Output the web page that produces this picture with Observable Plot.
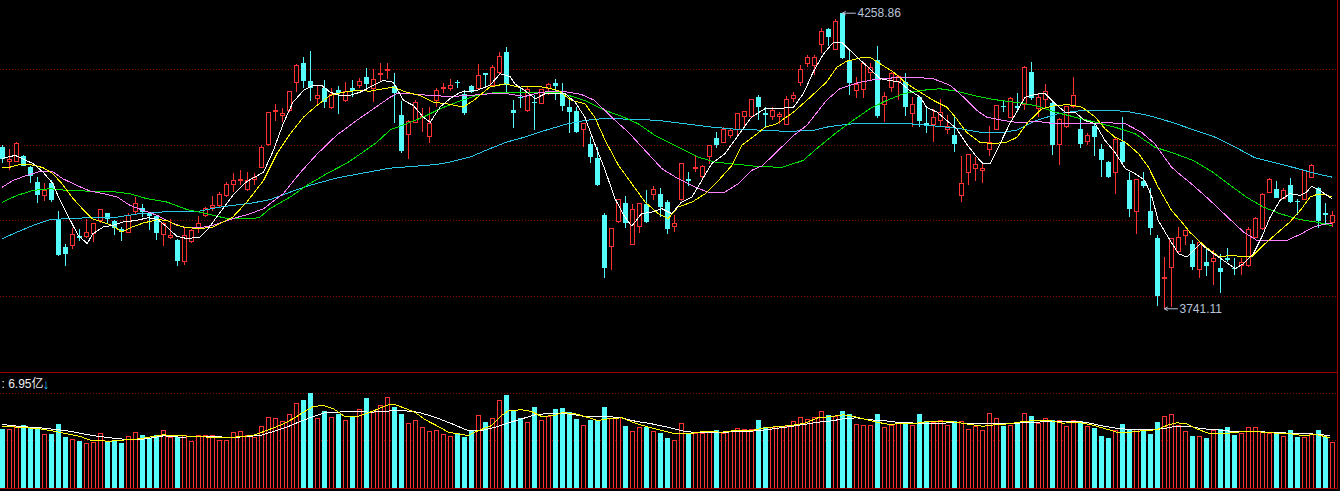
<!DOCTYPE html>
<html><head><meta charset="utf-8">
<script src="https://cdn.jsdelivr.net/npm/d3@7"></script>
<script src="https://cdn.jsdelivr.net/npm/@observablehq/plot@0.6"></script>
<style>
html,body{margin:0;padding:0;background:#000;overflow:hidden;}
#chart{width:1340px;height:491px;background:#000;}
#chart svg{display:block;}
</style></head><body><div id="chart"></div>
<script>
const open = [
4024.3,3998,3998,4008,3989.3,3963,3938.5,3961.3,3897.2,3849.3,
3851,3868.5,3866.3,3872,3894.8,3907.7,3894.8,3880.3,3874.5,3910.5,
3916.5,3907.7,3903,3869.8,3864.5,3861,3823,3858,3880.3,3903,
3917.5,3920.5,3938.5,3958.5,3964.8,3948.5,3967.2,3988.2,4027.3,4085,
4078.5,4086.8,4136.3,4170.2,4139.3,4108.3,4126.5,4092.5,4123.5,4104.8,
4126.5,4131,4145.7,4126.5,4149.8,4156.8,4130.5,4079.8,4046,4067,
4075,4041.8,4104.8,4126.5,4126.5,4138,4116,4130.5,4125.3,4152.7,
4130.5,4153.8,4189.5,4088.5,4111.8,4087.3,4103,4100.2,4126.5,4135.2,
4116.5,4093.2,4086.8,4054.7,4029,4005,3904.8,3849.3,3893,3925.2,
3853.5,3884.3,3924,3941,3941.5,3927.5,3884.3,3931,3967.2,3985.8,
3971.8,4006.8,4039,4032,4043.5,4054.7,4076.8,4076.8,4110.7,4082.7,
4076.8,4076.8,4063.5,4108.3,4136.3,4169,4166,4203.5,4229.7,4194.7,
4257.7,4176,4122.3,4124.7,4153.8,4176,4098.5,4128.2,4138,4138,
4082.7,4110.7,4066.3,4062.3,4069.8,4054.7,4044.8,3938.5,3978.8,3986.5,
3981.8,4019.7,4054.7,4096,4075.7,4095.5,4097.3,4155.5,4091.5,4106,
4100.2,4027.3,4059.3,4094.3,4054.7,4033,4060.5,4020.3,3998,3978.8,
4033,3966,3910.5,3964.3,3912.3,3865,3792.8,3813.2,3840.5,3868.5,
3854,3809.7,3822,3823.4,3812,3829,3812.5,3816,3816,3865.7,
3880.3,3944.5,3950.3,3934,3957.3,3929.8,3932.2,3970.7,3951.5,3907.7,
3891.3];
const close = [
4002.8,4001,4030.2,3991,3973.5,3939.8,3946.8,3931,3834.8,3836.5,
3869.8,3865,3874.5,3889,3913.5,3898.3,3881.5,3875,3903.5,3924,
3910.5,3903,3873.8,3889,3868,3824.8,3869.2,3877.3,3890.2,3915.3,
3920.5,3941,3958.5,3964.3,3967.2,3965.5,3969.5,4023.2,4084.5,4087.3,
4082.7,4120.5,4165.5,4139.8,4127.5,4113,4103,4114.8,4117.7,4120.5,
4122.3,4138,4134,4141,4152.7,4159,4118.8,4017.3,4068,4102,
4076.8,4065.2,4122.3,4128.2,4131,4135.2,4083.8,4120.5,4148,4149.8,
4163.2,4183,4132.3,4083.8,4110,4124.7,4100.2,4123.5,4133.5,4131,
4096,4085.5,4050.5,4064,4006.8,3957.3,3812.5,3881.5,3932.2,3890.2,
3913.5,3924,3893,3948.5,3919.3,3880.3,3890.2,3995.2,3964.8,3988.2,
3989.3,4026.7,4027.3,4054.7,4051.8,4082.7,4085,4107.2,4094.3,4079.8,
4086.8,4079.8,4107.2,4113,4159.7,4180.7,4180.7,4226.8,4216.8,4244.3,
4180,4136.3,4132.3,4170.2,4162.5,4078,4111.8,4152.7,4146.8,4094.3,
4098.5,4069.8,4060.5,4075.7,4083.8,4059.3,4029,3959,4009.8,3993.5,
3986.5,4031.3,4096,4093.2,4109,4092.5,4162,4109,4110.7,4120.5,
4027.3,4071,4094.3,4113,4029,4043.5,4041.8,4001,3970.7,4037.2,
3997,3914.7,3967.2,3956,3882.5,3763,3795.7,3864,3865.7,3876.8,
3813.8,3856.6,3814.3,3827.8,3805.5,3826.5,3809.7,3822,3878.5,3899,
3939.8,3966,3935,3946.8,3928,3928,3982.3,3990.5,3894.8,3904.8,
3903.5];
const high = [
4027.3,4019.7,4032.5,4009.8,3990.5,3971.8,3960.2,3966,3911.8,3854,
3882.5,3880.3,3897.2,3890,3915.3,3908.5,3896,3884.3,3907.7,3936.8,
3924,3910.5,3904.8,3893,3897.2,3862.2,3882.5,3879.7,3903,3918.2,
3938,3945.5,3963,3978.8,3983.5,3980,3977.7,4027.3,4085.5,4098.5,
4092.5,4121.8,4168.5,4181.8,4191.8,4131,4141,4126.5,4130.5,4138,
4141,4145,4161.5,4160.3,4170.2,4170.2,4152.7,4104.3,4071,4106,
4091.5,4094.3,4126.5,4135.2,4142.2,4141,4123.5,4132.3,4169,4153.8,
4167.3,4189.5,4199.3,4106,4129.3,4129.3,4114.8,4125,4136.3,4142.2,
4135.2,4109,4094.3,4066.3,4041.8,4023.2,3907.7,3882.5,3933.3,3938.5,
3923.5,3925.2,3948.5,3956,3952.5,3931,3904.8,3996.3,3979.5,4009.8,
3992.3,4027.5,4050.5,4058.2,4056.5,4083.5,4087.3,4108,4114.8,4093.2,
4093.2,4085.5,4113,4120.5,4167.3,4184.8,4184.8,4231.5,4232.5,4247.2,
4258.86,4193.5,4145.7,4173,4170.2,4200.5,4120.5,4155.5,4149.8,4153.8,
4110.7,4111.8,4093.2,4089.7,4107.2,4079.8,4079.8,4008,4011.5,4006.8,
3995.2,4060.5,4097.3,4104.3,4110.7,4117.7,4165.5,4172.5,4117.7,4134,
4103,4074,4096,4145.7,4075.7,4047.7,4063.5,4029,3999.8,4041.8,
4075.7,3980.5,3968,3980.5,3951.5,3869.8,3830.7,3865,3883.2,3878.5,
3861,3858,3844.4,3843.5,3836.5,3846.5,3829,3829,3884.3,3901.8,
3942.7,3969,3964.8,3951.5,3969,3932.2,3983.5,3994,3954.3,3925.2,
3912.3];
const low = [
3995.2,3983.5,3997.5,3990.5,3960.2,3926.3,3929.3,3928,3832,3816,
3845.3,3859.3,3864,3857,3890.8,3889,3869.8,3859.8,3873.3,3906,
3901.8,3878.5,3861,3851,3862.8,3816,3817.3,3856.3,3872.7,3901,
3912.3,3918.8,3936.3,3945.5,3957.3,3946.8,3957.3,3986.5,4025.5,4069.3,
4068,4085,4120.5,4126.5,4104.3,4097.3,4091.5,4090,4081.5,4103,
4111.8,4127,4127.5,4103,4139.3,4142.2,4066.3,4013.8,4002.8,4065.2,
4050.5,4031.3,4094.3,4117.7,4122.3,4126.5,4079.8,4118.3,4124,4129.3,
4129,4152,4117.7,4056.5,4092.5,4085.5,4053.5,4098.5,4114.8,4106,
4087.3,4048.8,4048.8,4024.3,3995.2,3956,3795,3807.3,3891,3881.5,
3852,3873.8,3891,3931,3900.7,3871.5,3874.5,3929,3955.5,3980.5,
3970,3994,4021.5,4030.8,4039,4041.8,4057.5,4075,4071,4056.5,
4071,4064,4062,4103,4130.5,4164.3,4149.8,4187.7,4201,4193,
4178,4114.8,4109,4109,4141,4074,4068,4120.5,4106,4078,
4058.2,4058.2,4047.7,4033,4060.5,4046,4015.5,3928,3957.3,3964.8,
3960.2,4008.5,4053,4084.5,4074,4085.5,4088.5,4106,4076.8,4094.3,
4009.8,3992.3,4056.5,4091.5,4021.5,4027.3,4008,3971.8,3969,3941.5,
3995,3901.8,3871.5,3951.5,3869.8,3745.5,3741.11,3743.8,3836.5,3852.3,
3808.5,3793.6,3798,3782.3,3767.7,3823,3799.8,3799.8,3814,3864,
3878.5,3942.7,3933.5,3932.5,3925.2,3904.8,3930.5,3969,3881.5,3889,
3884.3];
// 成交量 (亿)
const volume = [
8.91,8.91,9.26,9.52,9.11,9.11,8.16,8.16,9.67,7.71,
7.40,7.10,6.80,6.95,8.31,6.95,7.25,6.80,7.71,8.46,
8.01,7.56,8.01,8.72,7.60,7.75,7.86,7.10,7.86,7.96,
7.96,7.25,7.25,8.46,8.61,7.90,7.56,9.22,10.68,10.43,
10.08,11.18,12.80,13.30,14.40,10.43,11.63,10.58,11.18,10.27,
10.77,11.89,13.60,11.44,12.54,13.70,12.24,11.23,9.82,10.27,
9.17,8.61,8.76,8.01,7.71,8.31,7.71,8.61,11.03,9.97,
10.43,13.15,14.05,11.68,10.53,9.97,12.24,10.27,10.88,11.94,
12.09,11.44,10.43,9.52,10.27,10.27,12.24,10.43,10.62,9.37,
8.61,9.07,9.22,8.61,8.31,7.56,7.25,9.82,8.31,8.31,
8.27,8.57,8.76,8.31,8.51,9.02,8.91,8.87,10.27,9.17,
9.17,9.22,9.22,10.08,10.68,10.38,10.68,11.59,11.03,10.77,
11.63,11.18,9.67,9.52,9.52,11.18,9.07,9.37,9.97,9.97,
9.52,11.18,10.12,9.97,10.27,9.52,10.12,10.02,8.91,9.22,
8.76,11.33,10.43,9.37,9.37,9.97,11.33,10.88,9.82,10.43,
10.27,10.17,9.22,10.27,10.12,9.22,9.07,7.86,7.56,8.76,
9.67,8.91,8.91,8.76,8.16,9.97,10.88,11.18,9.52,8.61,
7.86,7.71,7.56,8.76,8.91,9.22,8.01,8.31,9.07,9.07,
8.46,8.31,8.16,7.71,8.76,7.71,7.56,8.01,8.76,7.71,
6.95];

// moving averages: [candle index, value]
const ma5 = [[0,4004.5],[1.8,4009.8],[4.4,3995.2],[5.8,3980.5],[7.2,3960.2],[7.9,3939.8],[9.2,3907.7],[10.8,3869.8],[12.1,3855.2],[12.9,3872.7],[14.4,3884.3],[15.8,3887.3],[17.2,3893],[19.2,3896],[20.8,3900.7],[22.2,3897.2],[23.5,3884.3],[24.9,3868],[26.4,3864],[28.2,3866.8],[29.2,3878.5],[30.6,3901.8],[32.9,3939.8],[34.9,3964],[37.3,3980.5],[38.7,4018.5],[40.1,4065.2],[41.5,4103],[43,4123.5],[44.4,4132.3],[45.6,4132.3],[46.8,4120.5],[48.2,4114.8],[49.6,4114.8],[51.1,4120.5],[52.5,4129.3],[54.4,4141],[55.8,4138],[57.3,4106],[58.7,4097.3],[60.1,4076.8],[61.1,4068],[62.5,4094.3],[63.9,4109],[65.4,4120.5],[67.7,4123.5],[69.6,4132.3],[71.1,4152.7],[72.5,4148],[73.2,4135.2],[74.6,4123.5],[76.1,4109],[77.5,4117.7],[78.9,4117.7],[80.4,4117.7],[81.8,4103],[83.2,4076.8],[84.6,4030.2],[86.1,3983.5],[87.5,3934],[88.9,3901.8],[89.9,3886],[91.3,3907.7],[92.7,3910.5],[94.2,3916.5],[95.6,3907.7],[97,3928],[98.5,3936.8],[99.9,3966],[101.3,3995.2],[103.2,4012.7],[105.1,4044.8],[107,4076.8],[108.9,4091.5],[110.6,4091.5],[113,4094.3],[114.4,4117.7],[115.8,4155.5],[117.3,4187.7],[118.7,4208],[119.9,4208],[121.1,4193.5],[122.5,4177.2],[123.9,4161.5],[125.4,4144],[126.8,4141],[128.2,4138],[129.6,4123.5],[131.1,4111.8],[132,4094.3],[133.5,4085.5],[134.9,4071],[136.3,4056.5],[137.7,4030.2],[139.2,4006.8],[140.1,3995.2],[141.1,3995.2],[142.5,4030.2],[143.9,4065.2],[145.4,4097.3],[146.1,4111.8],[147.5,4116.5],[148.9,4118.8],[150.4,4100.2],[151.8,4085.5],[153.2,4085.5],[154.6,4071],[156.1,4065.2],[157.5,4036],[158.9,4015.5],[160.4,3986.5],[161.8,3977.7],[163.2,3966],[164.2,3936.8],[165.1,3896],[166.5,3866.8],[168,3837.7],[169.2,3831.8],[171.1,3855.2],[173,3837.7],[174.4,3826],[176.1,3811.5],[177.3,3820.2],[178.7,3837.7],[179.9,3866.8],[181.1,3901.8],[182.5,3931],[183.9,3942.7],[185.4,3939.8],[186.3,3945.5],[187,3955.5],[188.2,3948.5],[189.2,3939.8],[189.9,3934]];
const ma10 = [[0,3988.2],[1.1,3989.3],[2.5,3994],[4.4,3992.8],[5.8,3988.2],[7.2,3977.7],[8.5,3960.2],[9.9,3936.8],[11.4,3916.5],[12.8,3899],[14.2,3893],[15.6,3887.3],[17.1,3875.5],[18.5,3884.3],[20.1,3891.3],[22.1,3897.2],[23.5,3896],[24.9,3887.3],[26.4,3883.2],[28.2,3881.5],[30.1,3884.3],[31.5,3893],[32.9,3901.8],[34.9,3928],[37.3,3966],[39.2,4012.7],[41.1,4047.7],[43,4076.8],[44.9,4097.3],[46.8,4114.8],[48.7,4120.5],[50.6,4123.5],[52.5,4122.3],[54.4,4126.5],[55.8,4129.3],[57.7,4120.5],[59.6,4114.8],[61.5,4103],[63.5,4100.2],[65.8,4094.3],[67.3,4106],[69.6,4129.3],[71.8,4135.2],[73.7,4129.3],[75.6,4130.5],[77.5,4129.3],[79.4,4123.5],[81.3,4106],[83.2,4100.2],[84.6,4076.8],[86.1,4036],[88,3992.3],[89.9,3960.2],[91.8,3928],[93.7,3907.7],[95.1,3899],[96.5,3919.3],[98.5,3928],[100.4,3942.7],[102.3,3966],[104.2,3992.3],[105.6,4027.3],[107.5,4044.8],[108.9,4058.8],[110.6,4065.2],[113,4085.5],[115.4,4111.8],[117.7,4138],[119.2,4164.3],[120.6,4174.8],[123,4181.8],[123.9,4181.8],[125.4,4170.2],[127.3,4155.5],[129.2,4135.2],[131.1,4120.5],[133,4106],[134.9,4094.3],[136.3,4074],[137.7,4050.5],[139.6,4033],[141.5,4030.2],[143.5,4033],[144.9,4041.3],[146.5,4068],[148.5,4091.5],[150.4,4097.3],[152.3,4098.5],[154.2,4094.3],[156.1,4076.8],[157.5,4056.5],[158.9,4041.8],[160.4,4033],[162.3,4012.7],[163.7,3989.3],[165.1,3954.3],[167,3913.5],[168.5,3892.5],[169.6,3875.5],[171.1,3858],[172.5,3843.5],[173.9,3831.8],[175.4,3834.8],[176.8,3833],[178.5,3833],[180.1,3852.3],[182,3872.7],[183.9,3893],[185.4,3913.5],[186.8,3936.8],[187.8,3941.5],[189.2,3940.3],[189.9,3936.8]];
const ma20 = [[0,3954.3],[1.5,3966],[3.5,3974.8],[5.4,3981.8],[7.1,3981.8],[8.6,3969],[10.6,3957.3],[12.5,3947.3],[14.4,3942.7],[16.4,3936.8],[18.2,3922.3],[20.1,3913.5],[22.1,3904.8],[23.9,3893],[25.8,3884.3],[28.2,3883.2],[30.1,3887.3],[32.9,3899],[35.4,3907.7],[37.3,3916.5],[40.1,3942.7],[42.5,3979.1],[44.9,4011.5],[47.7,4044.8],[50.6,4071],[53,4091.5],[55.4,4111.8],[56.3,4117.7],[58.2,4117.7],[61.1,4114.8],[63.9,4113],[66.8,4114.8],[69.6,4117.7],[71.8,4118.3],[74.6,4113],[77,4120.5],[79.9,4122.3],[82.7,4116.5],[84.6,4106],[87,4076.8],[89.4,4050.5],[91.8,4018.5],[94.2,3986.5],[96.5,3969],[98.9,3954.3],[100.8,3945.5],[103.2,3945.5],[105.1,3960.2],[107,3983.5],[108.5,3991.4],[110.1,4009.8],[113,4044.8],[114.9,4062.3],[117.7,4106],[119.6,4126.5],[122.5,4138],[124.4,4142.2],[127.3,4145.7],[130.1,4146.8],[133,4144],[135.4,4132.3],[137.3,4111.8],[139.2,4088.5],[140.6,4076.8],[143,4071],[145.4,4066.6],[147.5,4069.8],[150.4,4065.2],[154.2,4065.2],[158,4067],[160.4,4065.2],[162.7,4050.5],[164.6,4030.2],[167,3989.3],[168.2,3976.5],[170.1,3957.3],[172.5,3931],[174.9,3903],[177.3,3875.5],[179.2,3861],[181.5,3860.1],[183.5,3861],[185.4,3871.5],[187.3,3884.3],[188.7,3889],[189.9,3890.8]];
const ma30 = [[0,3928],[2.1,3939.8],[4.4,3948.5],[6.8,3951.5],[9.2,3948.5],[12.1,3947.3],[15.4,3946.8],[18.2,3942.7],[20.6,3934],[23.5,3928],[26.4,3914.7],[29.2,3907.7],[32.1,3899],[35.8,3899],[36.8,3901.8],[38.2,3916.5],[41.1,3936.8],[43.5,3957.3],[46.3,3977.7],[49.2,3996.3],[51.5,4015.5],[53.5,4033],[55.4,4054.7],[57.7,4065.2],[60.1,4076.8],[62.5,4091.5],[64.9,4103],[67.7,4114.8],[70.1,4119.5],[73.9,4119.5],[79.4,4120.5],[83.2,4106],[86.1,4088.5],[88.5,4078],[90.8,4065.2],[93.2,4044.8],[96.5,4024.3],[99.4,4006.8],[101.8,3998],[105.1,3994],[108.5,3989.6],[111.5,3989.3],[114.4,4001],[116.3,4021.5],[119.2,4050.5],[121.5,4071],[123.9,4091.5],[126.3,4106],[128.7,4117.7],[131.1,4123.5],[133.9,4126.5],[136.3,4122.3],[138.7,4114.8],[141.5,4107.8],[144.9,4102.5],[147.5,4097.3],[150.4,4085.5],[153.2,4076.8],[156.1,4068],[158.9,4059.3],[161.8,4047.7],[164.6,4024.3],[167.5,4012.7],[170.1,4001],[172.9,3980.5],[175.4,3957.3],[177.7,3936.8],[180.1,3919.3],[182.5,3907.7],[185.4,3897.2],[187.7,3893],[189.9,3886.8]];
const ma60 = [[0,3864],[2.1,3875.5],[4.4,3887.3],[6.8,3897.2],[9.2,3899],[12.5,3900.7],[16.4,3901.8],[19.6,3907.7],[22.5,3910.5],[26.4,3911.8],[28.2,3912.3],[30.6,3918.2],[32.9,3922.3],[35.4,3925.8],[38.2,3932.2],[41.1,3945.5],[43.9,3957.3],[47.7,3970.1],[51.5,3978.8],[55.4,3987.5],[59.2,3991],[62,3994],[63.9,3998],[66.8,4006.8],[69.6,4021.5],[72.1,4033.4],[74.6,4041.8],[77.5,4053.5],[80.4,4064],[83.2,4071],[85.6,4074],[89.9,4073.3],[93.7,4071],[97.5,4065.2],[101.3,4059.3],[105.1,4055.3],[108.5,4054],[112,4051.8],[115.8,4053.5],[118.2,4060.5],[121.5,4065.2],[125.4,4065.2],[129.6,4065.2],[133.9,4060.5],[136.8,4056.5],[139.6,4050.5],[142.5,4049.5],[144.9,4054],[147.5,4070],[150.8,4083],[154.2,4088.5],[157,4088.5],[160.4,4087.3],[163.7,4079.8],[167,4068],[170.4,4053.5],[173.2,4041.8],[176.1,4024.3],[178.9,4005.7],[182.3,3995.2],[185.1,3986.5],[187.5,3978.3],[189.9,3971.8]];
const volMa5 = [[0,9.37],[2.5,9.26],[5.4,9.02],[7.3,8.66],[9.2,8.27],[11.1,7.86],[12.7,7.25],[15.4,7.15],[17.7,7.36],[19.6,7.51],[21.5,7.86],[23,8.11],[25.4,7.96],[28.2,7.86],[30.6,7.66],[33,7.75],[35.8,8.01],[37.7,8.76],[39.6,9.52],[41.5,10.53],[43,11.53],[44.4,12.39],[45.8,12.54],[47.3,12.04],[48.9,10.88],[50.8,10.92],[52.3,11.44],[53.7,12.04],[55.1,12.65],[56.1,12.65],[57.5,12.13],[58.9,11.53],[60.4,10.38],[61.8,9.63],[63.7,8.51],[65.6,8.16],[66.5,8.01],[68,8.76],[69.9,9.52],[71.3,11.03],[72.3,11.79],[74.2,11.89],[75.6,11.63],[77,10.88],[78.9,11.03],[79.9,11.48],[81.8,11.29],[83.2,10.88],[85.1,10.27],[86.5,10.53],[88.5,10.68],[90.4,9.87],[92.3,9.26],[94.2,8.76],[96.1,8.27],[98,8.27],[100.4,8.66],[102.7,8.51],[104.6,8.76],[107,8.76],[108.9,9.17],[110.8,9.37],[112.7,9.52],[114.6,9.87],[116.5,10.68],[118.5,10.88],[120.1,11.14],[121.6,10.88],[123,10.53],[124.9,10.02],[126.8,9.67],[128.7,9.87],[130.6,9.87],[132.5,10.17],[134.4,10.17],[136.3,10.02],[138.2,9.67],[140.1,9.41],[142,9.67],[143.9,9.78],[145.8,10.12],[147.7,10.27],[149.6,10.27],[151.5,9.87],[153.5,10.02],[155.4,9.67],[157.3,9.11],[159.2,8.51],[161.1,8.51],[163,8.76],[164.9,8.87],[166.3,9.52],[167.7,9.93],[169.2,9.78],[170.6,9.02],[172.5,8.27],[174.4,8.27],[176.3,8.51],[178.2,8.66],[180.1,8.51],[182,8.36],[183.9,8.27],[185.8,8.01],[187.7,8.16],[189.6,7.66]];
const volMa10 = [[0,9.67],[2.5,9.37],[5.4,9.17],[7.7,8.91],[9.6,8.66],[11.5,8.27],[13.5,7.90],[15.4,7.66],[17.3,7.45],[19.6,7.40],[21.5,7.66],[23,7.96],[25.4,7.75],[28.2,7.86],[30.6,7.86],[32.5,7.66],[34.9,7.86],[36.8,8.01],[38.7,8.61],[40.6,9.26],[42.5,10.12],[44.4,10.88],[46.3,11.53],[48.2,11.56],[50.4,11.63],[52.7,11.53],[54.6,11.68],[57,11.79],[59.4,11.53],[61.8,10.77],[64.2,9.78],[66.5,8.76],[68.5,8.76],[70.4,9.26],[72.3,9.93],[74.2,10.53],[76.1,11.14],[78.5,11.38],[80.8,11.29],[83.2,10.88],[85.6,10.88],[88,10.77],[90.4,10.17],[92.7,9.78],[95.1,9.26],[97.5,8.61],[99.9,8.42],[102.3,8.42],[104.6,8.61],[107,8.66],[109.4,8.91],[111.8,9.26],[114.2,9.63],[116.5,10.02],[118.5,10.23],[120.1,10.53],[122,10.68],[123.9,10.38],[125.8,10.27],[127.7,10.02],[130.6,9.87],[133.5,9.87],[136.3,9.93],[139.2,9.78],[142,9.78],[144.9,9.87],[147.7,10.02],[150.6,10.17],[153.5,10.17],[155.4,9.87],[157.3,9.41],[159.2,9.11],[161.1,8.91],[163.9,8.87],[165.8,9.02],[167.7,9.41],[169.6,9.37],[171.5,9.02],[173.5,8.87],[175.4,8.66],[178.2,8.61],[181.1,8.51],[183.9,8.36],[186.8,8.27],[189.6,8.01]];

const priceGrid = [4159.7, 4026.6, 3894.9, 3761.8];
const volGrid = [14.31, 7.25];
const priceDomain = [3629.5, 4281.1];
const volDomain = [0, 17.53];
const maxLabel = {i: 120, v: 4258.86, text: "4258.86"};
const minLabel = {i: 166, v: 3741.11, text: "3741.11"};
const volLabel = ": 6.95亿";
const volArrow = "↓";

const RED = "#ff3232", CYAN = "#54fcfc", GRID = "#8a0000", BORDER = "#9b0000", LABEL = "#b9c3d6";
const W = 1340;
const FONT = "'Liberation Sans', Arial, 'Noto Sans CJK SC', sans-serif";
const HWF = 2.5 / 7, HWS = 2 / 7;
const CRISP = "crispEdges";
const xOpts = {type: "linear", domain: [-2 / 7, 1338 / 7], range: [0, W], axis: null};

const candles = open.map((o, i) => ({i, open: o, high: high[i], low: low[i], close: close[i], vol: volume[i], up: close[i] >= o}));
const ups = candles.filter(d => d.up), downs = candles.filter(d => !d.up);
const mline = (data, stroke) => Plot.line(data, {x: d => d[0], y: d => d[1], stroke, strokeWidth: 1, shapeRendering: CRISP});
const arrowLen = 1.85;

const price = Plot.plot({
  width: W, height: 372, margin: 0, marginRight: 3,
  x: xOpts,
  y: {domain: priceDomain, range: [372, 0], axis: null},
  style: {background: "#000", fontFamily: FONT},
  marks: [
    Plot.ruleY(priceGrid, {stroke: GRID, strokeDasharray: "1,2", shapeRendering: CRISP}),
    Plot.ruleX(ups, {x: "i", y1: "low", y2: "high", stroke: RED, shapeRendering: CRISP}),
    Plot.ruleX(downs, {x: "i", y1: "low", y2: "high", stroke: CYAN, shapeRendering: CRISP}),
    Plot.rect(downs, {x1: d => d.i - HWF, x2: d => d.i + HWF, y1: "open", y2: "close", fill: CYAN, shapeRendering: CRISP}),
    Plot.rect(ups, {x1: d => d.i - HWS, x2: d => d.i + HWS, y1: "open", y2: "close", fill: "#000", stroke: RED, shapeRendering: CRISP}),
    mline(ma60, "#29c7e6"),
    mline(ma30, "#00e000"),
    mline(ma20, "#ff80ff"),
    mline(ma10, "#ffff00"),
    mline(ma5, "#ffffff"),
    Plot.arrow([maxLabel, minLabel], {x1: d => d.i + arrowLen, x2: "i", y1: "v", y2: "v", stroke: LABEL, strokeWidth: 1, headLength: 5, headAngle: 60, inset: 0}),
    Plot.text([maxLabel, minLabel], {x: "i", y: "v", text: "text", dx: 15, textAnchor: "start", lineAnchor: "middle", fill: LABEL, fontSize: 12}),
    Plot.frame({anchor: "right", stroke: BORDER, shapeRendering: CRISP})
  ]
});

const vol = Plot.plot({
  width: W, height: 119, marginTop: 0, marginBottom: 3, marginLeft: 0, marginRight: 3,
  x: xOpts,
  y: {domain: volDomain, range: [116, 0], axis: null},
  style: {background: "#000", fontFamily: FONT},
  marks: [
    Plot.ruleY(volGrid, {stroke: GRID, strokeDasharray: "1,2", shapeRendering: CRISP}),
    Plot.rect(downs, {x1: d => d.i - HWF, x2: d => d.i + HWF, y1: d => 0, y2: "vol", fill: CYAN, shapeRendering: CRISP}),
    Plot.rect(ups, {x1: d => d.i - HWS, x2: d => d.i + HWS, y1: d => 0, y2: "vol", fill: "#000", stroke: RED, shapeRendering: CRISP}),
    Plot.ruleY([volDomain[0]], {stroke: BORDER, shapeRendering: CRISP}),
    Plot.ruleY([volDomain[1]], {stroke: BORDER, shapeRendering: CRISP}),
    mline(volMa10, "#ffffff"),
    mline(volMa5, "#ffff00"),
    Plot.text([volLabel], {text: d => d, frameAnchor: "top-left", dx: 1, dy: 12, textAnchor: "start", lineAnchor: "middle", fill: "#eeeef4", fontSize: 12}),
    Plot.text([volArrow], {text: d => d, frameAnchor: "top-left", dx: 42, dy: 12, textAnchor: "start", lineAnchor: "middle", fill: "#22b4f0", fontSize: 14}),
    Plot.frame({anchor: "right", stroke: BORDER, shapeRendering: CRISP})
  ]
});

const el = document.getElementById("chart");
el.append(price, vol);
</script>
</body></html>
